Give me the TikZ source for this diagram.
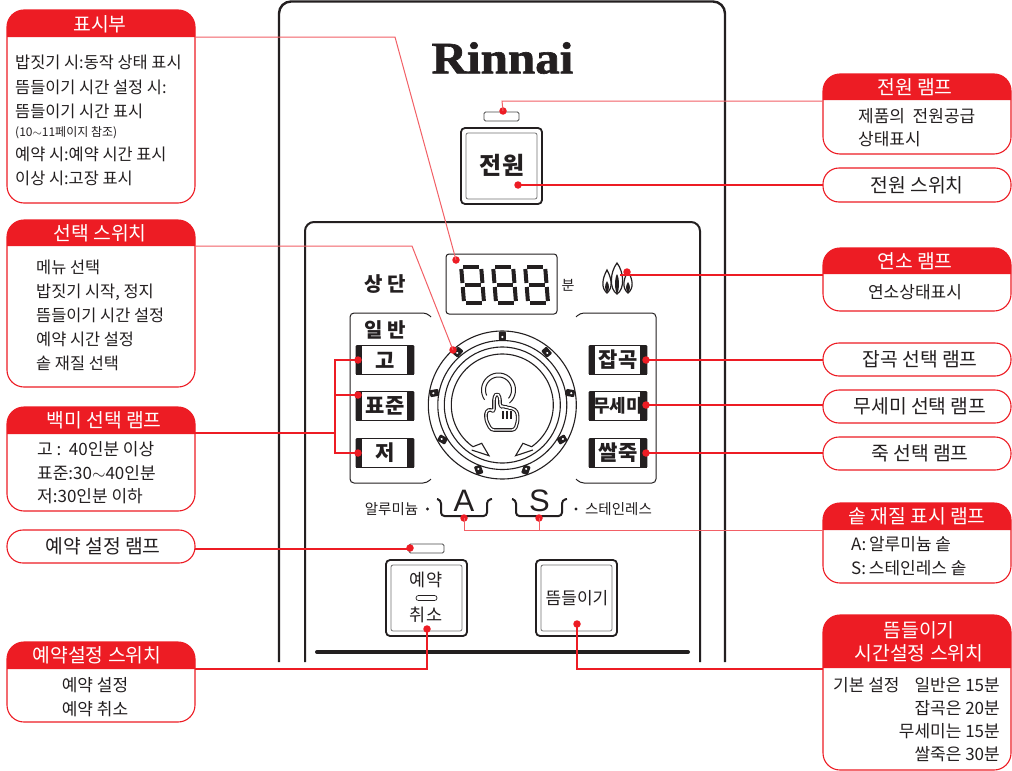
\documentclass[tikz,border=0pt]{standalone}
\usepackage{fontspec}
\setmainfont{Noto Sans CJK KR}
\newfontfamily\logofont[FakeBold=1.4,FakeStretch=1.09]{Liberation Serif}
\newfontfamily\latinsans{Liberation Sans}
\definecolor{rr}{HTML}{ED1C24}
\definecolor{ink}{HTML}{231F20}
\tikzset{
  lab/.style={inner sep=0pt,text=ink,font=\fontsize{17}{17}\selectfont,text height=16pt,text depth=3pt},
  lableft/.style={lab,anchor=west},
  labright/.style={lab,anchor=east},
  labsm/.style={lableft,font=\fontsize{16.4}{17}\selectfont},
  head/.style={lab,text=white,font=\fontsize{19.3}{20}\selectfont,text height=17pt},
  pilltext/.style={lab,font=\fontsize{19.3}{20}\selectfont,text height=17pt},
  rdot/.style={circle,fill=rr,inner sep=0pt,minimum size=7.5pt},
  conn/.style={draw=rr,line width=1.3pt,shift={(0.5,0.5)}},
  connthin/.style={draw=rr!70,line width=1pt,shift={(0.5,0.5)}},
  pill/.style={draw=rr,line width=1.1pt,rounded corners=16pt,fill=white},
  panel/.style={draw=ink,line width=2.4pt},
  keybtn/.style={draw=ink,fill=white,line width=0.8pt,rounded corners=1pt,minimum width=58pt,minimum height=29pt,inner sep=0pt,text=ink,font=\fontsize{21}{21}\bfseries\selectfont},
  ring/.style={draw=ink,line width=1.1pt},
}
\newcommand{\callbox}[5]{%
  \draw[draw=rr,line width=1.1pt,rounded corners=17pt] (#1,#2) rectangle (#3,#4);
  \fill[rr] (#1,#5) [rounded corners=17pt] -- (#1,#2) -- (#3,#2) [sharp corners] -- (#3,#5) -- cycle;
}
\newcommand{\pwrbtn}[5]{% x1 y1 x2 y2 name
  \node[draw=ink,line width=1.8pt,rounded corners=4pt,minimum width={#3pt-#1pt},minimum height={#4pt-#2pt},inner sep=0pt] (#5) at ({(#1+#3)/2},{(#2+#4)/2}) {};
  \draw[draw=black!55,line width=0.8pt,rounded corners=2pt] (#1+5,#2+5) rectangle (#3-5,#4-5);
}
\newcommand{\keycap}[4]{% name cx cy text
  \node[keybtn] (#1) at (#2,#3) {\phantom{#4}};
  \fill[ink] (#2-29,#3-14.5) rectangle (#2-23,#3+14.5);
  \fill[ink] (#2+22,#3-14.5) rectangle (#2+29,#3+14.5);
  \node[inner sep=0pt,text=ink,font=\fontsize{21}{21}\bfseries\selectfont] at (#2,#3) {#4};
}
\newcommand{\digit}[1]{%
  \begin{scope}[shift={(#1,265)},xslant=-0.08,line width=4pt,draw=ink]
    \draw (5,2) -- (21,2);
    \draw (5,20) -- (21,20);
    \draw (5,38) -- (21,38);
    \draw (3,4) -- (3,18);
    \draw (23,4) -- (23,18);
    \draw (3,22) -- (3,36);
    \draw (23,22) -- (23,36);
  \end{scope}
}
\newcommand{\flame}[4]{% x top bot halfwidth
  \draw[fill=white,draw=ink,line width=1.2pt] (#1,#2) .. controls (#1+#4,#2+9) and (#1+#4+1,#3-5) .. (#1,#3) .. controls (#1-#4-1,#3-5) and (#1-#4,#2+9) .. (#1,#2) -- cycle;
  \fill[ink] (#1,#2+11) .. controls (#1+2.6,#2+15) and (#1+2.6,#3-4) .. (#1,#3) .. controls (#1-2.6,#3-4) and (#1-2.6,#2+15) .. (#1,#2+11) -- cycle;
}
\begin{document}
\begin{tikzpicture}[x=1pt,y=-1pt]
\useasboundingbox (0,0) rectangle (1012,771);
\fill[white] (0,0) rectangle (1012,771);

% ---------- appliance panel
\draw[panel] (279,662) [rounded corners=12pt] -- (279,1.5) -- (725,1.5) [sharp corners] -- (725,662);
\draw[panel,line width=2pt] (305,662) [rounded corners=9pt] -- (305,222) -- (700,222) [sharp corners] -- (700,662);
\draw[ink,line width=4pt,line cap=round] (317,652) -- (688,652);
\node[inner sep=0pt,text=ink,font=\logofont\fontsize{45}{45}\bfseries\selectfont] (logo) at (502.5,58) {Rinnai};

% power
\draw[draw=black!70,line width=0.8pt,rounded corners=1.5pt] (484,112) rectangle (519,121);
\pwrbtn{461}{128}{542}{204}{pbtn}
\node[inner sep=0pt,text=ink,font=\fontsize{24}{24}\bfseries\selectfont] (ptext) at (502,165) {전원};

% display
\draw[draw=ink,line width=1pt,rounded corners=3pt] (446,254) rectangle (557,314);
\digit{458}\digit{490}\digit{522}
\node[inner sep=0pt,text=ink,font=\fontsize{14}{14}\selectfont] (minu) at (568,285) {분};
\flame{607}{270}{293}{5}
\flame{628}{271}{293}{5}
\flame{617}{263}{294}{7}
\node[inner sep=0pt,text=ink,font=\fontsize{20}{20}\bfseries\selectfont] (sang) at (385,284) {상 단};
\node[inner sep=0pt,text=ink,font=\fontsize{20}{20}\bfseries\selectfont] (ilban) at (385,330) {일 반};

% bracket frames
\draw[draw=ink,line width=1pt] (431,317) [rounded corners=4pt] -- (427,313) -- (350,313) -- (350,483) -- (427,483) [sharp corners] -- (431,479);
\draw[draw=ink,line width=1pt] (576,317) [rounded corners=4pt] -- (580,313) -- (656,313) -- (656,483) -- (580,483) [sharp corners] -- (576,479);

% keycaps
\keycap{kgo}{385}{360}{고}
\keycap{kpy}{385}{406}{표준}
\keycap{kje}{385}{453}{저}
\keycap{kjg}{618}{360}{잡곡}
\node[keybtn] (kms) at (618,406) {};
\fill[ink] (589,391.5) rectangle (595,420.5);
\fill[ink] (640,391.5) rectangle (647,420.5);
\node[inner sep=0pt,text=ink,font=\fontsize{18}{18}\bfseries\selectfont] at (618,406) {무세미};
\keycap{kjk}{618}{453}{쌀죽}

% dial
\draw[ring] (502.3,405) circle (74pt);
\draw[ring] (502.3,405) circle (64.5pt);
\draw[ring] (502.3,405) circle (58pt);
\draw[ring] plot[domain=-55:235,samples=80] ({502.3+51*cos(\x)},{405-51*sin(\x)});
\foreach \a in {90,50,10,-30,-70,-110,-150,-190,-230}{
  \begin{scope}[shift={({502.3+69*cos(\a)},{405-69*sin(\a)})},rotate={90-\a}]
    \fill[ink,rounded corners=1pt] (-3.5,-4.5) rectangle (3.5,4.5);
    \fill[white] (0,1) circle (1.2pt);
  \end{scope}
}
\draw[ring,fill=white] (472.7,446.8) -- (481.7,443.3) -- (489,455.7) -- (471.7,450);
\draw[ring,fill=white] (531.9,446.8) -- (522.9,443.3) -- (515.6,455.7) -- (532.9,450);
% touch hand
\draw[ink,line width=1pt] plot[domain=-50:215,samples=40] ({498.5+17*cos(\x)},{390-17*sin(\x)});
\draw[ink,line width=1pt] plot[domain=-40:205,samples=40] ({498.5+13*cos(\x)},{390-13*sin(\x)});
\draw[ink,line width=3.6pt,rounded corners=3pt,line join=round,fill=white,postaction={draw=white,line width=1.4pt}] (491,430) -- (486,420) -- (486,411) -- (491,409) -- (494,412) -- (494,397) -- (497,393) -- (500,397) -- (500,407) -- (504,406) -- (508,408) -- (512,408) -- (517,411) -- (518,420) -- (515,430) -- cycle;
\draw[ink,line width=1.1pt] (503,411) -- (503,419) (507,411) -- (507,419) (511,411) -- (511,419);

% material marks
\node[inner sep=0pt,text=ink,font=\latinsans\fontsize{31}{31}\selectfont] (la) at (464,501) {A};
\node[inner sep=0pt,text=ink,font=\latinsans\fontsize{31}{31}\selectfont] (ls) at (539.5,501) {S};
\draw[ink,line width=2pt,rounded corners=3.5pt] (437,499) -- (441,500) -- (441,516) -- (487,516) -- (487,500) -- (492,499);
\draw[ink,line width=2pt,rounded corners=3.5pt] (512,499) -- (516,500) -- (516,516) -- (562,516) -- (562,500) -- (567,499);
\node[inner sep=0pt,text=ink,font=\fontsize{14.5}{15}\selectfont] (al) at (391.5,509) {알루미늄};
\node[inner sep=0pt,text=ink,font=\fontsize{14.5}{15}\selectfont] (st) at (618.5,509) {스테인레스};
\fill[ink] (427.5,509) circle (1.6pt);
\fill[ink] (576,509) circle (1.6pt);

% reservation
\draw[draw=black!70,line width=0.8pt,rounded corners=1.5pt] (409,544) rectangle (444,553);
\pwrbtn{386}{560}{467}{636}{rbtn}
\pwrbtn{536}{560}{617}{636}{tbtn}
\node[inner sep=0pt,text=ink,font=\fontsize{17.5}{18}\selectfont] (ry) at (426,580) {예약};
\draw[draw=ink,line width=0.7pt,rounded corners=2.5pt] (416,595.5) rectangle (437,600.5);
\node[inner sep=0pt,text=ink,font=\fontsize{17.5}{18}\selectfont] (rc) at (426,615) {취소};
\node[inner sep=0pt,text=ink,font=\fontsize{17}{18}\selectfont] (tt) at (577,598) {뜸들이기};

% ---------- call-out boxes
\callbox{7}{10}{195}{203}{37}
\node[head] (h1) at (100,24) {표시부};
\node[labsm] (t11) at (15,62) {밥짓기 시:동작 상태 표시};
\node[labsm] (t12) at (15,87) {뜸들이기 시간 설정 시:};
\node[labsm] (t13) at (15,111) {뜸들이기 시간 표시};
\node[lableft,font=\fontsize{12}{12}\selectfont,text height=14pt] (t14) at (15,131) {(10$\sim$11페이지 참조)};
\node[labsm] (t15) at (15,154) {예약 시:예약 시간 표시};
\node[labsm] (t16) at (15,178) {이상 시:고장 표시};

\callbox{7}{220}{195}{387}{246}
\node[head] (h2) at (100,233) {선택 스위치};
\node[labsm] (t21) at (36,267) {메뉴 선택};
\node[labsm] (t22) at (36,291) {밥짓기 시작, 정지};
\node[labsm] (t23) at (36,315) {뜸들이기 시간 설정};
\node[labsm] (t24) at (36,339) {예약 시간 설정};
\node[labsm] (t25) at (36,363) {솥 재질 선택};

\callbox{7}{407}{195}{511}{434}
\node[head] (h3) at (104,420) {백미 선택 램프};
\node[lableft] (t31) at (37,449) {고 :\ \ 40인분 이상};
\node[lableft] (t32) at (37,473) {표준:30$\sim$40인분};
\node[lableft] (t33) at (37,496) {저:30인분 이하};

\node[pill,minimum width=188pt,minimum height=33pt,inner sep=0pt] (b4) at (101,546.5) {};
\node[pilltext] (t41) at (103,546) {예약 설정 램프};

\callbox{7}{642}{195}{722}{669}
\node[head] (h5) at (97,655) {예약설정 스위치};
\node[lab] (t51) at (95,685) {예약 설정};
\node[lab] (t52) at (95,709) {예약 취소};

\callbox{823}{74}{1011}{154}{100}
\node[head] (h6) at (915,87) {전원 램프};
\node[lableft] (t61) at (858,116) {제품의\ \ 전원공급};
\node[lableft] (t62) at (858,139) {상태표시};

\node[pill,minimum width=188pt,minimum height=34pt,inner sep=0pt] (b7) at (917,185) {};
\node[pilltext] (t71) at (917,185) {전원 스위치};

\callbox{823}{248}{1011}{311}{274}
\node[head] (h8) at (915,261) {연소 램프};
\node[lab] (t81) at (915,292) {연소상태표시};

\node[pill,minimum width=188pt,minimum height=33pt,inner sep=0pt] (b9) at (917,359.5) {};
\node[pilltext] (t91) at (920,359) {잡곡 선택 램프};
\node[pill,minimum width=188pt,minimum height=33pt,inner sep=0pt] (b10) at (917,406.5) {};
\node[pilltext] (t101) at (920,406) {무세미 선택 램프};
\node[pill,minimum width=188pt,minimum height=33pt,inner sep=0pt] (b11) at (917,453.5) {};
\node[pilltext] (t111) at (920,453) {죽 선택 램프};

\callbox{823}{503}{1011}{583}{530}
\node[head] (h12) at (917,516) {솥 재질 표시 램프};
\node[lableft] (t121) at (851,544) {A:\,알루미늄 솥};
\node[lableft] (t122) at (851,568) {S:\,스테인레스 솥};

\callbox{823}{615}{1011}{770}{668}
\node[head] (h13a) at (919,630) {뜸들이기};
\node[head] (h13b) at (919,653) {시간설정 스위치};
\node[lableft] (t131) at (833,685) {기본 설정};
\node[labright] (t132) at (1000,685) {일반은 15분};
\node[labright] (t133) at (1000,708) {잡곡은 20분};
\node[labright] (t134) at (1000,731) {무세미는 15분};
\node[labright] (t135) at (1000,754) {쌀죽은 30분};

% ---------- dots
\node[rdot] (d1) at (456,260) {};
\node[rdot] (d2) at (453,350) {};
\node[rdot] (d3a) at (358,360) {};
\node[rdot] (d3b) at (358,395) {};
\node[rdot] (d3c) at (358,453) {};
\node[rdot] (d4) at (410,548) {};
\node[rdot] (d5) at (427,629) {};
\node[rdot] (d6) at (503,111) {};
\node[rdot] (d7) at (518,185) {};
\node[rdot] (d8) at (627,272) {};
\node[rdot] (d9) at (646,360) {};
\node[rdot] (d10) at (646,405) {};
\node[rdot] (d11) at (646,453) {};
\node[rdot] (d12a) at (464,518) {};
\node[rdot] (d12b) at (539,518) {};
\node[rdot] (d13) at (577,624) {};

% ---------- connectors
\coordinate (c1) at (195,37);  \coordinate (k1) at (395,37);
\coordinate (c2) at (195,246); \coordinate (k2) at (412,246);
\coordinate (c3) at (195,433); \coordinate (k3) at (335,433);
\coordinate (k3a) at (335,360); \coordinate (k3b) at (335,395); \coordinate (k3c) at (335,453);
\coordinate (c4) at (195,549);
\coordinate (c5) at (195,669); \coordinate (k5) at (427,669);
\coordinate (c6) at (823,101); \coordinate (k6) at (502,101);
\coordinate (c7) at (823,185);
\coordinate (c8) at (823,275); \coordinate (k8) at (620,275);
\coordinate (c9) at (823,360);
\coordinate (c10) at (823,405);
\coordinate (c11) at (823,453);
\coordinate (c12) at (823,530); \coordinate (k12a) at (464,530); \coordinate (k12b) at (539,530);
\coordinate (c13) at (823,669); \coordinate (k13) at (577,669);
\draw[connthin] (c1) -- (k1) -- (d1.center);
\draw[connthin] (c2) -- (k2) -- (d2.center);
\draw[conn] (c3) -- (k3);
\draw[conn] (d3a.center) -- (k3a) -- (k3c) -- (d3c.center);
\draw[conn] (k3b) -- (d3b.center);
\draw[conn] (c4) -- (d4.center |- c4);
\draw[conn] (c5) -- (k5) -- (d5.center);
\draw[connthin] (c6) -- (k6) -- (d6.center);
\draw[conn] (c7) -- (d7.center);
\draw[conn] (c8) -- (k8);
\draw[conn] (c9) -- (d9.center);
\draw[conn] (c10) -- (d10.center);
\draw[conn] (c11) -- (d11.center);
\draw[connthin] (c12) -- (k12a) -- (d12a.center);
\draw[connthin] (k12b) -- (d12b.center);
\draw[conn] (c13) -- (k13) -- (d13.center);
\end{tikzpicture}
\end{document}
